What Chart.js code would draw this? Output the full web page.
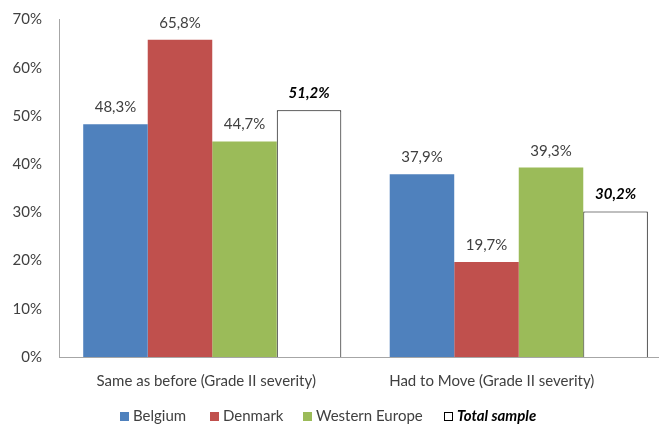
<!DOCTYPE html>
<html><head><meta charset="utf-8">
<script src="https://cdn.jsdelivr.net/npm/chart.js@4.4.1/dist/chart.umd.min.js"></script>
<style>
html,body{margin:0;padding:0;background:#fff;overflow:hidden}
#wrap{width:659px;height:428px;overflow:hidden;position:relative;background:#fff}
#box{width:673px;height:428px;position:absolute;left:0;top:0}
</style></head><body>
<div id="wrap"><div id="box"><canvas id="c"></canvas></div></div>
<script>
const categories = ['Same as before (Grade II severity)', 'Had to Move (Grade II severity)'];
const seriesNames = ['Belgium', 'Denmark', 'Western Europe', 'Total sample'];
const belgium = [48.3, 37.9];
const denmark = [65.8, 19.7];
const westernEurope = [44.7, 39.3];
const totalSample = [51.2, 30.2];
const yTicks = [0, 10, 20, 30, 40, 50, 60, 70];

const FONT = 'Lato';
const FS = 15;
const TXT = '#404040';
const fills = ['#4F81BD', '#C0504D', '#9BBB59', '#FFFFFF'];
const borders = ['#4F81BD', '#C0504D', '#9BBB59', '#000000'];
const allSeries = [belgium, denmark, westernEurope, totalSample];
const catLabelShift = [-6, -27];
const legendBoxX = [120, 210, 303, 444];

function fmt(v){ return v.toFixed(1).replace('.', ',') + '%'; }

const datasets = allSeries.map((d, i) => ({
  label: seriesNames[i],
  data: d,
  backgroundColor: fills[i],
  borderColor: borders[i],
  borderWidth: i === 3 ? 1 : 0,
  isTotal: i === 3,
  barPercentage: 1,
  categoryPercentage: 0.842
}));

const valueLabels = {
  id: 'valueLabels',
  afterDatasetsDraw(chart){
    const ctx = chart.ctx;
    chart.data.datasets.forEach((ds, i) => {
      const meta = chart.getDatasetMeta(i);
      meta.data.forEach((el, j) => {
        ctx.save();
        ctx.font = ds.isTotal ? `italic bold ${FS}px ${FONT}` : `${FS}px ${FONT}`;
        ctx.fillStyle = ds.isTotal ? '#000000' : TXT;
        ctx.textAlign = 'center';
        ctx.textBaseline = 'alphabetic';
        ctx.fillText(fmt(ds.data[j]), el.x, el.y - 12);
        ctx.restore();
      });
    });
  }
};

const categoryLabels = {
  id: 'categoryLabels',
  afterDraw(chart){
    const ctx = chart.ctx;
    const xs = chart.scales.x;
    ctx.save();
    ctx.font = `${FS}px ${FONT}`;
    ctx.fillStyle = TXT;
    ctx.textAlign = 'center';
    ctx.textBaseline = 'middle';
    chart.data.labels.forEach((lab, i) => {
      ctx.fillText(lab, xs.getPixelForTick(i) + catLabelShift[i], 381);
    });
    ctx.restore();
  }
};

const customLegend = {
  id: 'customLegend',
  afterDraw(chart){
    const ctx = chart.ctx;
    const box = 9, gapBox = 4, cy = 416;
    chart.data.datasets.forEach((ds, k) => {
      const font = ds.isTotal ? `italic bold ${FS}px ${FONT}` : `${FS}px ${FONT}`;
      const x = legendBoxX[k];
      ctx.save();
      ctx.fillStyle = ds.backgroundColor;
      ctx.fillRect(x, Math.round(cy - 4.5), box, box);
      if (ds.isTotal) {
        ctx.strokeStyle = '#000'; ctx.lineWidth = 1;
        ctx.strokeRect(x + 0.5, Math.round(cy - 4.5) + 0.5, box - 1, box - 1);
      }
      ctx.font = font;
      ctx.fillStyle = ds.isTotal ? '#000' : TXT;
      ctx.textAlign = 'left';
      ctx.textBaseline = 'middle';
      ctx.fillText(ds.label, x + box + gapBox, cy);
      ctx.restore();
    });
  }
};

new Chart(document.getElementById('c'), {
  type: 'bar',
  data: { labels: categories, datasets },
  options: {
    responsive: true,
    maintainAspectRatio: false,
    animation: false,
    devicePixelRatio: 1,
    layout: { padding: { top: 19.5, right: 1, left: 0, bottom: 0 } },
    plugins: { legend: { display: false }, tooltip: { enabled: false } },
    scales: {
      x: {
        grid: { display: false, drawTicks: false },
        border: { display: true, color: '#A6A6A6', width: 1 },
        ticks: { display: false },
        afterFit(s){ s.height = 71; }
      },
      y: {
        min: 0, max: 70,
        grid: { display: false, drawTicks: false },
        border: { display: true, color: '#A6A6A6', width: 1 },
        ticks: { color: TXT, font: { family: FONT, size: FS }, padding: 17, callback: v => v + '%' },
        afterBuildTicks(s){ s.ticks = yTicks.map(v => ({ value: v })); },
        afterFit(s){ s.width = 59; s.paddingTop = 0; s.paddingBottom = 0; }
      }
    }
  },
  plugins: [valueLabels, categoryLabels, customLegend]
});
</script>
</body></html>
